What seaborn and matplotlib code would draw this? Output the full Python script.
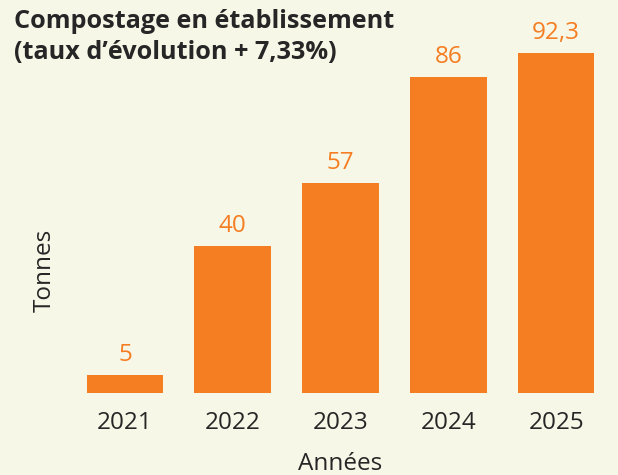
import matplotlib
matplotlib.use('Agg')
import matplotlib.pyplot as plt
import seaborn as sns
import pandas as pd

# Data
annees = ['2021', '2022', '2023', '2024', '2025']
tonnes = [5, 40, 57, 86, 92.3]
labels = ['5', '40', '57', '86', '92,3']

bg = '#f7f7e7'
orange = '#f57d22'
ink = '#262626'

sns.set_style('white')
plt.rcParams['font.family'] = ['Open Sans', 'DejaVu Sans']

df = pd.DataFrame({'Années': annees, 'Tonnes': tonnes})

fig = plt.figure(figsize=(6.18, 4.75), dpi=100, facecolor=bg)
ax = fig.add_axes([71 / 618, 1 - 393 / 475, (610 - 71) / 618, (393 - 20) / 475])
ax.set_facecolor(bg)

sns.barplot(data=df, x='Années', y='Tonnes', color=orange, saturation=1,
            width=0.71, linewidth=0, ax=ax)

for i, (v, lab) in enumerate(zip(tonnes, labels)):
    ax.text(i, v + 2.2, lab, ha='center', va='bottom', color=orange, fontsize=17.5)

ax.set_xlim(-0.5, 4.5)
ax.set_ylim(0, 101.4)
ax.set_yticks([])
for s in ax.spines.values():
    s.set_visible(False)
ax.tick_params(axis='x', length=0, pad=13, labelsize=17.5, labelcolor=ink)
ax.set_xlabel('Années', fontsize=17.5, color=ink, labelpad=12)
ax.set_ylabel('')
fig.text(45 / 618, 1 - 270 / 475, 'Tonnes', rotation=90, ha='center', va='center',
         fontsize=17.5, color=ink)

fig.text(14 / 618, 1 - 9 / 475, 'Compostage en établissement\n(taux d\u2019évolution + 7,33%)',
         ha='left', va='top', fontsize=18.2, fontweight='bold', color=ink, linespacing=1.3)

fig.savefig('out.png', dpi=100, facecolor=bg)
